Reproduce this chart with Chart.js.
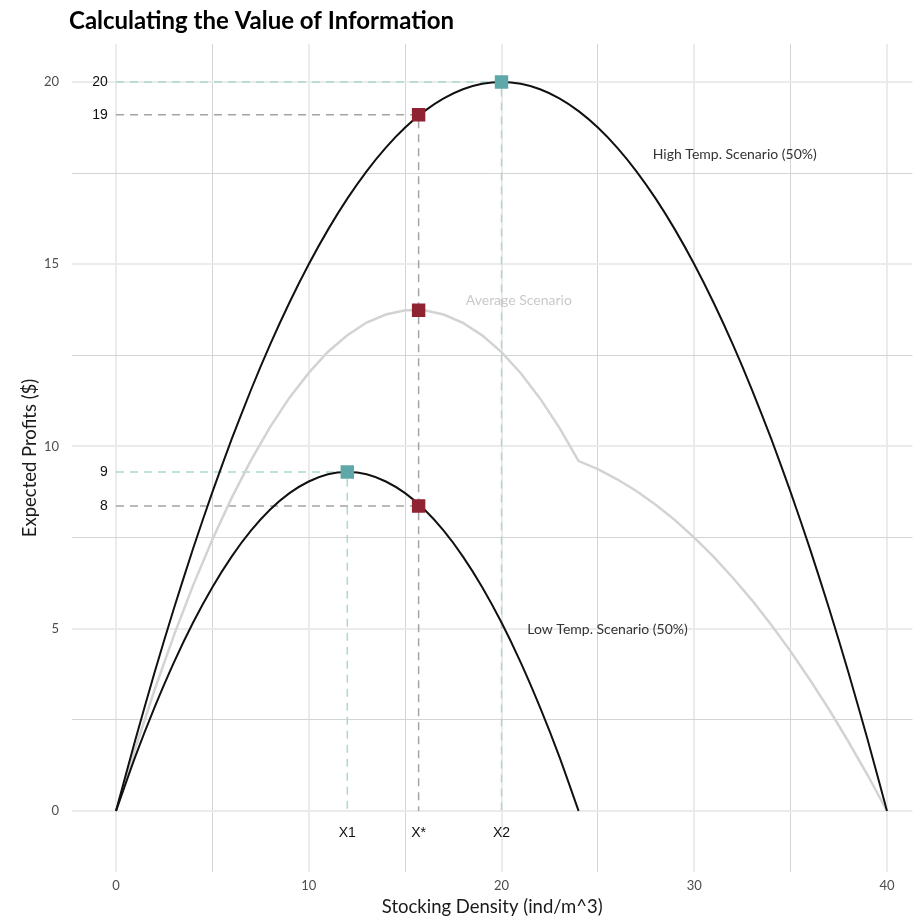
<!DOCTYPE html>
<html>
<head>
<meta charset="utf-8">
<script src="https://cdn.jsdelivr.net/npm/chart.js@4/dist/chart.umd.min.js"></script>
<style>
  html, body { margin: 0; padding: 0; background: #fff; overflow: hidden; }
  /* a little wider than the window: Chart.js keeps some right padding, which gets cropped away */
  #wrap { width: 922px; height: 921px; position: relative; }
</style>
</head>
<body>
<div id="wrap"><canvas id="voiChart"></canvas></div>
<script>
// Data
const density = [0, 1, 2, 3, 4, 5, 6, 7, 8, 9, 10, 11, 12, 13, 14, 15, 16, 17, 18, 19, 20,
                 21, 22, 23, 24, 25, 26, 27, 28, 29, 30, 31, 32, 33, 34, 35, 36, 37, 38, 39, 40];
const highProfit = [0, 1.95, 3.8, 5.55, 7.2, 8.75, 10.2, 11.55, 12.8, 13.95, 15, 15.95, 16.8, 17.55, 18.2, 18.75, 19.2, 19.55, 19.8, 19.95, 20,
                    19.95, 19.8, 19.55, 19.2, 18.75, 18.2, 17.55, 16.8, 15.95, 15, 13.95, 12.8, 11.55, 10.2, 8.75, 7.2, 5.55, 3.8, 1.95, 0];
const lowDensity = [0, 1, 2, 3, 4, 5, 6, 7, 8, 9, 10, 11, 12, 13, 14, 15, 16, 17, 18, 19, 20, 21, 22, 23, 24];
const lowProfit = [0, 1.49, 2.84, 4.07, 5.17, 6.14, 6.98, 7.69, 8.27, 8.72, 9.04, 9.24, 9.3, 9.24, 9.04, 8.72, 8.27, 7.69, 6.98, 6.14, 5.17, 4.07, 2.84, 1.49, 0];
const avgProfit = [0, 1.72, 3.32, 4.81, 6.19, 7.45, 8.59, 9.62, 10.54, 11.34, 12.02, 12.6, 13.05, 13.4, 13.62, 13.74, 13.74, 13.62, 13.39, 13.05, 12.59,
                   12.01, 11.32, 10.52, 9.6, 9.38, 9.1, 8.78, 8.4, 7.98, 7.5, 6.98, 6.4, 5.78, 5.1, 4.38, 3.6, 2.78, 1.9, 0.98, 0];

// Optimal points
const optimaX = [12, 20];
const optimaY = [9.3, 20];
const optimaNames = ['X1', 'X2'];
const optimaValueLabels = ['9', '20'];
const starX = 15.7;
const starY = [19.1, 13.74, 8.37];
const starName = 'X*';
const starValueLabels = ['19', '', '8'];

// Scenario labels
const scenarioLabels = ['High Temp. Scenario (50%)', 'Average Scenario', 'Low Temp. Scenario (50%)'];
const scenarioX = [32.1, 20.9, 25.5];
const scenarioY = [18.0, 14.0, 4.97];

// Axes
const xTicks = [0, 5, 10, 15, 20, 25, 30, 35, 40];
const yTicks = [0, 2.5, 5, 7.5, 10, 12.5, 15, 17.5, 20];
const xTickLabels = ['0', '', '10', '', '20', '', '30', '', '40'];
const yTickLabels = ['0', '', '5', '', '10', '', '15', '', '20'];

// Colours
const TEAL = '#5ea8a9';
const RED = '#8f2332';
const TEAL_DASH = '#acd7d1';
const GREY_DASH = '#a8a2a4';

// Build point lists
const toPoints = (xs, ys) => xs.map((v, i) => ({ x: v, y: ys[i] }));

const tealGuides = [];
optimaX.forEach((ox, i) => {
    tealGuides.push({ x: 0, y: optimaY[i] }, { x: ox, y: optimaY[i] }, { x: ox, y: 0 }, { x: ox, y: null });
});
const greyGuides = [
    { x: 0, y: starY[0] }, { x: starX, y: starY[0] }, { x: starX, y: 0 }, { x: starX, y: null },
    { x: 0, y: starY[2] }, { x: starX, y: starY[2] }
];

const isMajorX = v => v % 10 === 0;
const isMajorY = v => v % 5 === 0;

// Text plugin
const textPlugin = {
    id: 'voiText',
    afterDatasetsDraw(chart) {
        const { ctx, scales: { x, y } } = chart;
        ctx.save();

        // Title
        let size = 22;
        ctx.font = `bold ${size}px Lato`;
        const w = ctx.measureText('Calculating the Value of Information').width;
        size = size * 385 / w;
        ctx.font = `bold ${size}px Lato`;
        ctx.fillStyle = '#000';
        ctx.textAlign = 'left';
        ctx.textBaseline = 'middle';
        ctx.fillText('Calculating the Value of Information', 69, 21);

        // Value labels left of the y = 0 line
        ctx.font = '14px "Liberation Sans"';
        ctx.fillStyle = '#111';
        ctx.textAlign = 'right';
        optimaY.forEach((v, i) => ctx.fillText(optimaValueLabels[i], x.getPixelForValue(-0.42), y.getPixelForValue(v)));
        starY.forEach((v, i) => {
            if (starValueLabels[i]) ctx.fillText(starValueLabels[i], x.getPixelForValue(-0.42), y.getPixelForValue(v));
        });

        // X1, X*, X2 under the axis
        ctx.textAlign = 'center';
        optimaX.forEach((v, i) => ctx.fillText(optimaNames[i], x.getPixelForValue(v), y.getPixelForValue(-0.6)));
        ctx.fillText(starName, x.getPixelForValue(starX), y.getPixelForValue(-0.6));

        // Scenario labels
        ctx.font = '14px Lato';
        scenarioLabels.forEach((t, i) => {
            ctx.fillStyle = i === 1 ? '#c9c9c9' : '#333';
            ctx.fillText(t, x.getPixelForValue(scenarioX[i]), y.getPixelForValue(scenarioY[i]));
        });
        ctx.restore();
    }
};

const ctx = document.getElementById('voiChart').getContext('2d');
const voiChart = new Chart(ctx, {
    type: 'scatter',
    data: {
        datasets: [
            { // optimal points
                data: toPoints(optimaX, optimaY),
                pointStyle: 'rect', pointRadius: 9.5, backgroundColor: TEAL, borderWidth: 0
            },
            { // X* points
                data: starY.map(v => ({ x: starX, y: v })),
                pointStyle: 'rect', pointRadius: 9.5, backgroundColor: RED, borderWidth: 0
            },
            { // high
                data: toPoints(density, highProfit),
                showLine: true, borderColor: '#111', borderWidth: 2, pointRadius: 0, tension: 0.2
            },
            { // low
                data: toPoints(lowDensity, lowProfit),
                showLine: true, borderColor: '#111', borderWidth: 2, pointRadius: 0, tension: 0.2
            },
            { // average
                data: toPoints(density, avgProfit),
                showLine: true, borderColor: '#d3d3d3', borderWidth: 2.5, pointRadius: 0, tension: 0
            },
            {
                data: greyGuides,
                showLine: true, spanGaps: false, borderColor: GREY_DASH, borderWidth: 1.5, borderDash: [8, 6], pointRadius: 0
            },
            {
                data: tealGuides,
                showLine: true, spanGaps: false, borderColor: TEAL_DASH, borderWidth: 1.5, borderDash: [8, 6], pointRadius: 0
            }
        ]
    },
    options: {
        responsive: true,
        maintainAspectRatio: false,
        animation: false,
        layout: { padding: { top: 44, right: 1, left: 0, bottom: 0 } },
        plugins: {
            legend: { display: false },
            tooltip: { enabled: false }
        },
        scales: {
            x: {
                type: 'linear',
                min: -2.28,
                max: 41.31,
                afterBuildTicks: s => { s.ticks = xTicks.map(v => ({ value: v })); },
                afterFit: s => { s.height = 49; },
                ticks: {
                    autoSkip: false,
                    maxRotation: 0,
                    padding: 6,
                    color: '#4d4d4d',
                    font: { family: 'Lato', size: 13 },
                    callback: (v) => xTickLabels[xTicks.indexOf(v)]
                },
                grid: {
                    drawTicks: false,
                    color: c => isMajorX(c.tick.value) ? '#ebebeb' : '#d4d4d4',
                    lineWidth: c => isMajorX(c.tick.value) ? 2 : 1
                },
                border: { display: false },
                title: {
                    display: true,
                    text: 'Stocking Density (ind/m^3)',
                    color: '#1a1a1a',
                    font: { family: 'Lato', size: 18.5 },
                    padding: { top: 0, bottom: 3 }
                }
            },
            y: {
                type: 'linear',
                min: -1.67,
                max: 21.04,
                afterBuildTicks: s => { s.ticks = yTicks.map(v => ({ value: v })); },
                afterFit: s => { s.width = 72; },
                ticks: {
                    autoSkip: false,
                    padding: 13,
                    color: '#4d4d4d',
                    font: { family: 'Lato', size: 13 },
                    callback: (v) => yTickLabels[yTicks.indexOf(v)]
                },
                grid: {
                    drawTicks: false,
                    color: c => isMajorY(c.tick.value) ? '#ebebeb' : '#d4d4d4',
                    lineWidth: c => isMajorY(c.tick.value) ? 2 : 1
                },
                border: { display: false },
                title: {
                    display: true,
                    text: 'Expected Profits ($)',
                    color: '#1a1a1a',
                    font: { family: 'Lato', size: 18.5 },
                    padding: { top: 19, bottom: 0 }
                }
            }
        }
    },
    plugins: [textPlugin]
});

// Fit the plot panel to the reference frame (x 0->116 / 40->887, y 0->811 / 20->82)
function calibrate(chart) {
    const a = chart.chartArea;
    const kx = (887 - 116) / 40;
    const ky = (811 - 82) / 20;
    chart.options.scales.x.min = -(116 - a.left) / kx;
    chart.options.scales.x.max = (a.right - 116) / kx;
    chart.options.scales.y.min = -(a.bottom - 811) / ky;
    chart.options.scales.y.max = (811 - a.top) / ky;
    chart.update();
}
calibrate(voiChart);
calibrate(voiChart);
</script>
</body>
</html>
